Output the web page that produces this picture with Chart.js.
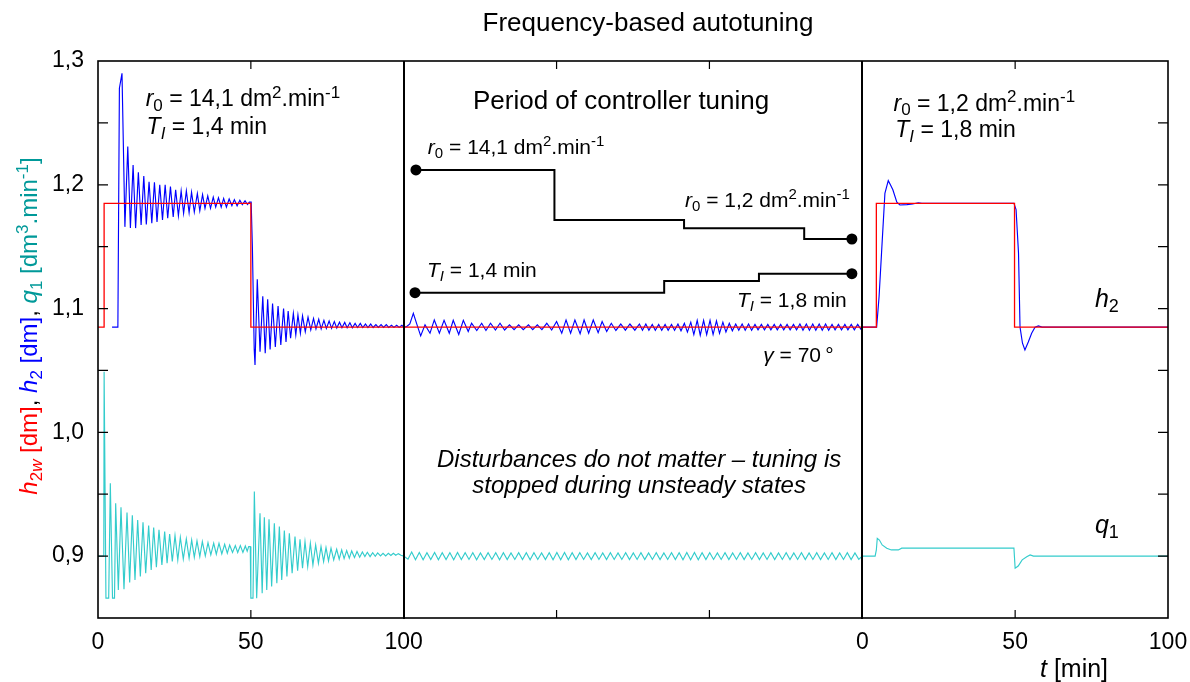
<!DOCTYPE html>
<html>
<head>
<meta charset="utf-8">
<script src="https://cdn.jsdelivr.net/npm/chart.js@4.4.1/dist/chart.umd.min.js"></script>
<style>
  html, body { margin: 0; padding: 0; background: #ffffff; }
  canvas { display: block; }
</style>
</head>
<body>
<canvas id="c" width="1190" height="682"></canvas>
<script>
const FAM = '"Liberation Sans", Arial, sans-serif';

// ---------- axis ticks ----------
const xTickValues = [0, 50, 100, 150, 200, 250, 300, 350];
const xTickLabels = ['0', '50', '100', '', '', '0', '50', '100'];
const yTickValues = [0.85, 0.9, 0.95, 1.0, 1.05, 1.1, 1.15, 1.2, 1.25, 1.3];
const yTickLabels = ['', '0,9', '', '1,0', '', '1,1', '', '1,2', '', '1,3'];
const sectionBounds = [100, 250];

// ---------- setpoint h2w [t, value] ----------
const h2wSetpoint = [[0,1.085],[2,1.085],[2,1.185],[50,1.185],[50,1.085],[254.6,1.085],[254.6,1.185],[299.8,1.185],[299.8,1.085],[350,1.085]];

// ---------- level h2 ----------
const h2Run1 = [[4.6,1.085],[6.5,1.085],[7.0,1.278],[7.85,1.290],[8.8,1.166],[9.74,1.231],[10.6,1.165],[11.48,1.216],[12.3,1.165],[13.2,1.210],[14.1,1.1675],[14.98,1.207],[15.8,1.168],[16.7,1.2025],[17.6,1.169],[18.46,1.202],[19.3,1.170],[20.2,1.200],[21.1,1.1715],[21.97,1.200],[22.8,1.173],[23.7,1.1985],[24.6,1.174],[25.4,1.196],[26.3,1.175],[27.2,1.195],[28.0,1.177],[28.9,1.195],[29.8,1.1775],[30.6,1.194],[31.5,1.178],[32.5,1.193],[33.3,1.179],[34.2,1.192],[35.0,1.181],[35.9,1.191],[36.8,1.181],[37.7,1.190],[38.5,1.182],[39.4,1.1895],[40.3,1.182],[41.1,1.189],[42.0,1.182],[42.9,1.1885],[43.8,1.183],[44.6,1.188],[45.5,1.183],[46.4,1.1875],[47.2,1.184],[48.1,1.187],[48.9,1.184],[49.5,1.186],[50.1,1.186],[50.5,1.150],[51.1,1.067],[51.36,1.0544]];
const h2Run2 = [[52.1,1.1237],[53.0,1.0652],[53.9,1.110],[54.7,1.064],[55.5,1.1075],[56.3,1.067],[57.1,1.104],[58.0,1.069],[58.9,1.102],[59.8,1.0706],[60.7,1.100],[61.5,1.073],[62.2,1.098],[63.0,1.076],[63.9,1.096],[64.7,1.0787],[65.4,1.0948],[66.2,1.080],[66.9,1.094],[67.8,1.0813],[68.7,1.093],[69.6,1.0827],[70.5,1.092],[71.3,1.0835],[72.2,1.0913],[73.0,1.0835],[73.9,1.0905],[74.7,1.084],[75.6,1.090],[76.4,1.084],[77.3,1.0895],[78.1,1.0843],[79.0,1.089],[79.8,1.0845],[80.7,1.0888],[81.5,1.0845],[82.4,1.0885],[83.2,1.0845],[84.1,1.088],[84.9,1.0847],[85.8,1.088],[86.6,1.0847],[87.5,1.0875],[88.3,1.0847],[89.2,1.0875],[90.0,1.0847],[90.9,1.087],[91.7,1.0848],[92.6,1.087],[93.4,1.0848],[94.3,1.087],[95.1,1.0848],[96.0,1.0865],[96.8,1.0848],[97.7,1.0865],[98.5,1.0848],[99.4,1.0865]];
const h2Tuning = [[100.0,1.085],[101.0,1.0855],[102.0,1.0875],[103.15,1.0962],[104.2,1.088],[105.55,1.0779],[106.97,1.0868],[108.6,1.0801],[110.0,1.0908],[111.66,1.0801],[113.2,1.0905],[114.9,1.0801],[116.2,1.0905],[118.0,1.0790],[119.5,1.0905],[121.1,1.0814],[122.2,1.0881],[123.9,1.0823],[125.5,1.0881],[126.9,1.0823],[128.4,1.0881],[130.0,1.0827],[131.5,1.0881],[133.0,1.0827],[134.6,1.0868],[136.1,1.0830],[137.6,1.0868],[139.1,1.0830],[140.8,1.0868],[142.2,1.0830],[143.7,1.0868],[145.2,1.0830],[146.8,1.0881],[148.4,1.0827],[150.0,1.0895],[151.7,1.0801],[153.1,1.0908],[154.6,1.0801],[156.0,1.0908],[157.7,1.0797],[159.0,1.0908],[160.5,1.0801],[162.0,1.0908],[163.6,1.0805],[164.9,1.0895],[166.4,1.0814],[167.9,1.0881],[169.4,1.0823],[171.0,1.0875],[172.5,1.0825],[174.0,1.0875],[175.6,1.0825],[177.1,1.0875],[178.1,1.0825],[179.2,1.0875],[180.2,1.0825],[181.3,1.0872],[182.3,1.0825],[183.4,1.0872],[184.4,1.0825],[185.5,1.0872],[186.5,1.0825],[187.6,1.0872],[188.6,1.0825],[189.7,1.0875],[190.7,1.0820],[191.8,1.0880],[192.8,1.0810],[193.9,1.0890],[194.9,1.0790],[196.0,1.0905],[197.0,1.0785],[198.1,1.0905],[199.1,1.0790],[200.2,1.0905],[201.2,1.0790],[202.3,1.0900],[203.3,1.0800],[204.4,1.0890],[205.4,1.0810],[206.5,1.0880],[207.5,1.0820],[208.6,1.0875],[209.6,1.0825],[210.7,1.0875],[211.7,1.0825],[212.8,1.0875],[213.8,1.0825],[214.9,1.0872],[215.9,1.0828],[217.0,1.0872],[218.0,1.0828],[219.1,1.0872],[220.1,1.0828],[221.2,1.0872],[222.2,1.0828],[223.3,1.0872],[224.3,1.0828],[225.4,1.0872],[226.4,1.0828],[227.5,1.0872],[228.5,1.0828],[229.6,1.0875],[230.6,1.0825],[231.7,1.0875],[232.7,1.0825],[233.8,1.0875],[234.8,1.0825],[235.9,1.0875],[236.9,1.0825],[238.0,1.0875],[239.0,1.0825],[240.1,1.0872],[241.1,1.0828],[242.2,1.0872],[243.2,1.0828],[244.3,1.0872],[245.3,1.0828],[246.4,1.0872],[247.4,1.0828],[248.5,1.0872],[249.5,1.0835]];
const h2Run3 = [[250.0,1.085],[254.7,1.085],[255.5,1.110],[256.3,1.145],[257.4,1.193],[258.5,1.2033],[259.2,1.200],[260.0,1.196],[261.3,1.186],[262.3,1.1837],[264.6,1.184],[266.5,1.1845],[268.3,1.1855],[269.5,1.185],[299.6,1.185],[300.3,1.180],[301.1,1.145],[301.6,1.085],[302.4,1.072],[303.2,1.0666],[304.3,1.073],[305.4,1.080],[306.5,1.085],[307.6,1.086],[308.8,1.085],[350,1.085]];

// ---------- inflow q1 ----------
const q1Run1 = [[0,0.9],[1.9,0.9],[2.0,1.049],[2.6,0.866],[3.5,0.866],[4.03,0.9589],[4.75,0.866],[5.4,0.866],[5.78,0.9427],[6.65,0.8727],[7.52,0.9395],[8.5,0.8732],[9.49,0.9352],[10.36,0.8786],[11.23,0.9330],[12.1,0.8808],[12.98,0.9292],[13.85,0.8835],[14.72,0.9274],[15.6,0.8862],[16.57,0.9247],[17.4,0.8889],[18.21,0.9231],[19.1,0.8910],[19.95,0.9212],[20.9,0.8929],[21.81,0.9198],[22.6,0.8943],[23.44,0.9179],[24.3,0.8956],[25.19,0.9166],[26.1,0.8969],[26.93,0.9152],[27.9,0.8977],[28.89,0.9139],[29.8,0.8983],[30.64,0.9131],[31.5,0.8991],[32.38,0.9123],[33.3,0.8996],[34.13,0.9117],[35.1,0.9002],[35.98,0.9109],[36.9,0.9010],[37.84,0.9104],[38.7,0.9015],[39.58,0.9104],[40.5,0.9018],[41.43,0.9096],[42.3,0.9023],[43.07,0.9090],[44.0,0.9029],[44.92,0.9085],[45.7,0.9029],[46.56,0.9085],[47.4,0.903],[48.19,0.9082],[48.8,0.904],[49.29,0.9077],[49.8,0.9077]];
const q1Run2 = [[50.0,0.866],[50.7,0.866],[51.14,0.9521],[51.9,0.866],[52.99,0.9346],[53.7,0.870],[54.41,0.9314],[55.2,0.8727],[55.94,0.9298],[56.8,0.8754],[57.68,0.9265],[58.5,0.8781],[59.32,0.9239],[60.1,0.8808],[60.95,0.9206],[61.8,0.8835],[62.59,0.9185],[63.5,0.8862],[64.44,0.9158],[65.3,0.8883],[66.08,0.9136],[66.9,0.8902],[67.71,0.9117],[68.6,0.8915],[69.46,0.9104],[70.3,0.8929],[71.2,0.9090],[72.1,0.8942],[72.95,0.9077],[73.8,0.8956],[74.58,0.9069],[75.4,0.8961],[76.22,0.9064],[77.1,0.8969],[78.07,0.9055],[78.9,0.8975],[79.71,0.9050],[80.5,0.8980],[81.34,0.9045],[82.2,0.8983],[82.98,0.9042],[83.9,0.8988],[84.72,0.9037],[85.6,0.8991],[86.47,0.9034],[87.3,0.8996],[88.1,0.9031],[89.0,0.8996],[89.85,0.9028],[90.7,0.8999],[91.48,0.9026],[92.4,0.9002],[93.23,0.9023],[94.1,0.9002],[94.97,0.9023],[95.8,0.9005],[96.61,0.9023],[97.4,0.9007],[98.24,0.9020],[99.1,0.9007]];
const q1Tuning = [[100.0,0.9000],[101.4,0.8975],[102.6,0.9033],[103.85,0.8970],[105.1,0.9030],[106.35,0.8971],[107.6,0.9028],[108.85,0.8972],[110.1,0.9030],[111.35,0.8970],[112.6,0.9028],[113.85,0.8972],[115.1,0.9027],[116.35,0.8971],[117.6,0.9029],[118.85,0.8972],[120.1,0.9027],[121.35,0.8973],[122.6,0.9028],[123.85,0.8971],[125.1,0.9026],[126.35,0.8972],[127.6,0.9028],[128.85,0.8973],[130.1,0.9027],[131.35,0.8971],[132.6,0.9028],[133.85,0.8972],[135.1,0.9026],[136.35,0.8973],[137.6,0.9027],[138.85,0.8972],[140.1,0.9028],[141.35,0.8971],[142.6,0.9027],[143.85,0.8973],[145.1,0.9026],[146.35,0.8972],[147.6,0.9028],[148.85,0.8971],[150.1,0.9029],[151.35,0.8970],[152.6,0.9030],[153.85,0.8971],[155.1,0.9028],[156.35,0.8972],[157.6,0.9027],[158.85,0.8973],[160.1,0.9026],[161.35,0.8972],[162.6,0.9027],[163.85,0.8973],[165.1,0.9026],[166.35,0.8972],[167.6,0.9027],[168.85,0.8973],[170.1,0.9026],[171.35,0.8973],[172.6,0.9027],[173.85,0.8972],[175.1,0.9026],[176.35,0.8973],[177.6,0.9027],[178.85,0.8972],[180.1,0.9026],[181.35,0.8973],[182.6,0.9027],[183.85,0.8972],[185.1,0.9026],[186.35,0.8973],[187.6,0.9027],[188.85,0.8972],[190.1,0.9028],[191.35,0.8971],[192.6,0.9029],[193.85,0.8970],[195.1,0.9029],[196.35,0.8971],[197.6,0.9028],[198.85,0.8972],[200.1,0.9027],[201.35,0.8973],[202.6,0.9026],[203.85,0.8973],[205.1,0.9027],[206.35,0.8972],[207.6,0.9026],[208.85,0.8973],[210.1,0.9027],[211.35,0.8972],[212.6,0.9026],[213.85,0.8973],[215.1,0.9027],[216.35,0.8972],[217.6,0.9026],[218.85,0.8973],[220.1,0.9027],[221.35,0.8972],[222.6,0.9026],[223.85,0.8973],[225.1,0.9027],[226.35,0.8972],[227.6,0.9026],[228.85,0.8973],[230.1,0.9027],[231.35,0.8972],[232.6,0.9026],[233.85,0.8973],[235.1,0.9027],[236.35,0.8972],[237.6,0.9026],[238.85,0.8973],[240.1,0.9027],[241.35,0.8972],[242.6,0.9026],[243.85,0.8973],[245.1,0.9027],[246.35,0.8972],[247.6,0.9026],[248.85,0.8974]];
const q1Run3 = [[250.0,0.9],[254.2,0.9],[254.6,0.905],[254.9,0.9144],[255.6,0.913],[256.5,0.909],[258.0,0.9064],[259.5,0.905],[261.8,0.905],[262.9,0.9064],[299.6,0.9064],[300.0,0.8902],[301.0,0.892],[302.3,0.897],[303.8,0.8995],[304.9,0.901],[306.0,0.9],[350,0.9]];

// ---------- controller parameter evolution (drawn in the tuning window) ----------
const r0Steps = [[104.0,1.2120],[149.3,1.2120],[149.3,1.1716],[191.7,1.1716],[191.7,1.1649],[231.0,1.1649],[231.0,1.1562],[246.6,1.1562]];
const tiSteps = [[103.7,1.1128],[185.2,1.1128],[185.2,1.1223],[216.2,1.1223],[216.2,1.1282],[246.6,1.1282]];

// ---------- colours ----------
const RED = '#ff0000', BLUE = '#0000ff', CYAN = '#33cccc', TEAL = '#009999';

const pts = arr => arr.map(p => ({x: p[0], y: p[1]}));

// rich text helpers
const R0 = v => [{t:'r',i:1},{t:'0',s:'sub'},{t:' = ' + v + ' dm'},{t:'2',s:'sup'},{t:'.min'},{t:'-1',s:'sup'}];
const TI = v => [{t:'T',i:1},{t:'I',i:1,s:'sub'},{t:' = ' + v + ' min'}];

const notes = [
  {t:15.6, v:1.2636, size:23, align:'left', segs:R0('14,1')},
  {t:15.9, v:1.2410, size:23, align:'left', segs:TI('1,4')},
  {t:260.2, v:1.2600, size:23, align:'left', segs:R0('1,2')},
  {t:260.8, v:1.2385, size:23, align:'left', segs:TI('1,8')},
  {t:171.1, v:1.2610, size:26, align:'center', segs:[{t:'Period of controller tuning'}]},
  {t:107.9, v:1.2249, size:21, align:'left', segs:R0('14,1')},
  {t:107.6, v:1.1253, size:21, align:'left', segs:TI('1,4')},
  {t:192.0, v:1.1823, size:21, align:'left', segs:R0('1,2')},
  {t:209.0, v:1.1015, size:21, align:'left', segs:TI('1,8')},
  {t:217.6, v:1.0571, size:21, align:'left', segs:[{t:'\u03b3',i:1},{t:' = 70\u2009\u00b0'}]},
  {t:177.0, v:0.9722, size:24, align:'center', segs:[{t:'Disturbances do not matter \u2013 tuning is',i:1}]},
  {t:177.0, v:0.9512, size:24, align:'center', segs:[{t:'stopped during unsteady states',i:1}]},
  {t:326.1, v:1.1015, size:25, align:'left', segs:[{t:'h',i:1},{t:'2',s:'sub'}]},
  {t:326.1, v:0.9185, size:25, align:'left', segs:[{t:'q',i:1},{t:'1',s:'sub'}]}
];

const yTitleSegs = [
  {t:'h',i:1,c:RED},{t:'2',s:'sub',c:RED},{t:'w',i:1,s:'sub',c:RED},{t:' [dm]',c:RED},{t:', ',c:'#000'},
  {t:'h',i:1,c:BLUE},{t:'2',s:'sub',c:BLUE},{t:' [dm]',c:BLUE},{t:', ',c:'#000'},
  {t:'q',i:1,c:TEAL},{t:'1',s:'sub',c:TEAL},{t:' [dm',c:TEAL},{t:'3',s:'sup',c:TEAL},{t:'.min',c:TEAL},{t:'-1',s:'sup',c:TEAL},{t:']',c:TEAL}
];

function drawRich(ctx, segs, x, y, size, align) {
  const parts = segs.map(s => {
    const fs = s.s ? Math.round(size * 0.72) : size;
    const font = (s.i ? 'italic ' : '') + fs + 'px ' + FAM;
    ctx.font = font;
    return {t: s.t, c: s.c || '#000', font, w: ctx.measureText(s.t).width,
            dy: s.s === 'sub' ? size * 0.2 : (s.s === 'sup' ? -size * 0.36 : 0)};
  });
  const total = parts.reduce((a, p) => a + p.w, 0);
  let cx = align === 'center' ? x - total / 2 : (align === 'right' ? x - total : x);
  ctx.textAlign = 'left';
  ctx.textBaseline = 'alphabetic';
  for (const p of parts) {
    ctx.font = p.font;
    ctx.fillStyle = p.c;
    ctx.fillText(p.t, cx, y + p.dy);
    cx += p.w;
  }
}

const overlay = {
  id: 'overlay',
  afterDatasetsDraw(chart) {
    const {ctx, chartArea: a, scales: {x, y}} = chart;
    ctx.save();
    // section separators
    ctx.strokeStyle = '#000';
    ctx.lineWidth = 2;
    sectionBounds.forEach(t => {
      const px = Math.round(x.getPixelForValue(t));
      ctx.beginPath(); ctx.moveTo(px, a.top); ctx.lineTo(px, a.bottom + 1); ctx.stroke();
    });
    // frame
    ctx.lineWidth = 1.6;
    ctx.strokeRect(a.left, a.top, a.right - a.left, a.bottom - a.top);
    // inward ticks
    ctx.lineWidth = 1.2;
    const TL = 10;
    yTickValues.forEach(v => {
      const py = y.getPixelForValue(v);
      if (py <= a.top + 1 || py >= a.bottom - 1) return;
      ctx.beginPath();
      ctx.moveTo(a.left, py); ctx.lineTo(a.left + TL, py);
      ctx.moveTo(a.right, py); ctx.lineTo(a.right - TL, py);
      ctx.stroke();
    });
    xTickValues.forEach(v => {
      const px = x.getPixelForValue(v);
      if (px <= a.left + 1 || px >= a.right - 1) return;
      ctx.beginPath();
      ctx.moveTo(px, a.bottom); ctx.lineTo(px, a.bottom - 8);
      ctx.moveTo(px, a.top); ctx.lineTo(px, a.top + 8);
      ctx.stroke();
    });
    ctx.restore();
  },
  afterDraw(chart) {
    const {ctx, chartArea: a, scales: {x, y}} = chart;
    ctx.save();
    // title
    ctx.font = '26px ' + FAM;
    ctx.fillStyle = '#000';
    ctx.textAlign = 'center';
    ctx.textBaseline = 'alphabetic';
    ctx.fillText('Frequency-based autotuning', 648, 31);
    // annotations
    notes.forEach(n => drawRich(ctx, n.segs, x.getPixelForValue(n.t), y.getPixelForValue(n.v), n.size, n.align));
    // x axis title
    drawRich(ctx, [{t:'t',i:1},{t:' [min]'}], a.right - 128, a.bottom + 59, 25, 'left');
    // y axis title (rotated)
    ctx.translate(37, 326);
    ctx.rotate(-Math.PI / 2);
    drawRich(ctx, yTitleSegs, 0, 0, 24, 'center');
    ctx.restore();
  }
};

const lineDs = (label, data, color, width) => ({
  label, data: pts(data), borderColor: color, backgroundColor: color,
  borderWidth: width, pointRadius: 0, tension: 0, fill: false
});
const stepDs = (label, data) => ({
  label, data: pts(data), borderColor: '#000', backgroundColor: '#000',
  borderWidth: 2, tension: 0, fill: false,
  pointRadius: c => (c.dataIndex === 0 || c.dataIndex === data.length - 1) ? 5.5 : 0,
  pointBorderWidth: 0, pointBackgroundColor: '#000'
});

new Chart(document.getElementById('c'), {
  type: 'line',
  data: {
    datasets: [
      stepDs('r0', r0Steps),
      stepDs('TI', tiSteps),
      lineDs('h2w', h2wSetpoint, RED, 1.3),
      lineDs('h2', [...h2Run1, ...h2Run2, ...h2Tuning, ...h2Run3], BLUE, 1.15),
      lineDs('q1', [...q1Run1, ...q1Run2, ...q1Tuning, ...q1Run3], CYAN, 1.15)
    ]
  },
  options: {
    responsive: false,
    animation: false,
    devicePixelRatio: 1,
    layout: {padding: {top: 61, right: 22, left: 0, bottom: 0}},
    plugins: {legend: {display: false}, tooltip: {enabled: false}, title: {display: false}},
    scales: {
      x: {
        type: 'linear', min: 0, max: 350,
        afterBuildTicks: s => { s.ticks = xTickValues.map(v => ({value: v})); },
        afterFit: s => { s.height = 64; s.paddingLeft = 0; s.paddingRight = 0; },
        ticks: {
          callback: (v, i) => xTickLabels[xTickValues.indexOf(v)] ?? '',
          font: {size: 23, family: FAM}, color: '#000', padding: 11,
          maxRotation: 0, autoSkip: false
        },
        grid: {display: false, drawTicks: false},
        border: {display: false}
      },
      y: {
        type: 'linear', min: 0.85, max: 1.3,
        afterBuildTicks: s => { s.ticks = yTickValues.map(v => ({value: v})); },
        afterFit: s => { s.width = 98; s.paddingTop = 0; s.paddingBottom = 0; },
        ticks: {
          callback: (v, i) => yTickLabels[i] ?? '',
          font: {size: 23, family: FAM}, color: '#000', padding: 14, autoSkip: false
        },
        grid: {display: false, drawTicks: false},
        border: {display: false}
      }
    }
  },
  plugins: [overlay]
});
</script>
</body>
</html>
